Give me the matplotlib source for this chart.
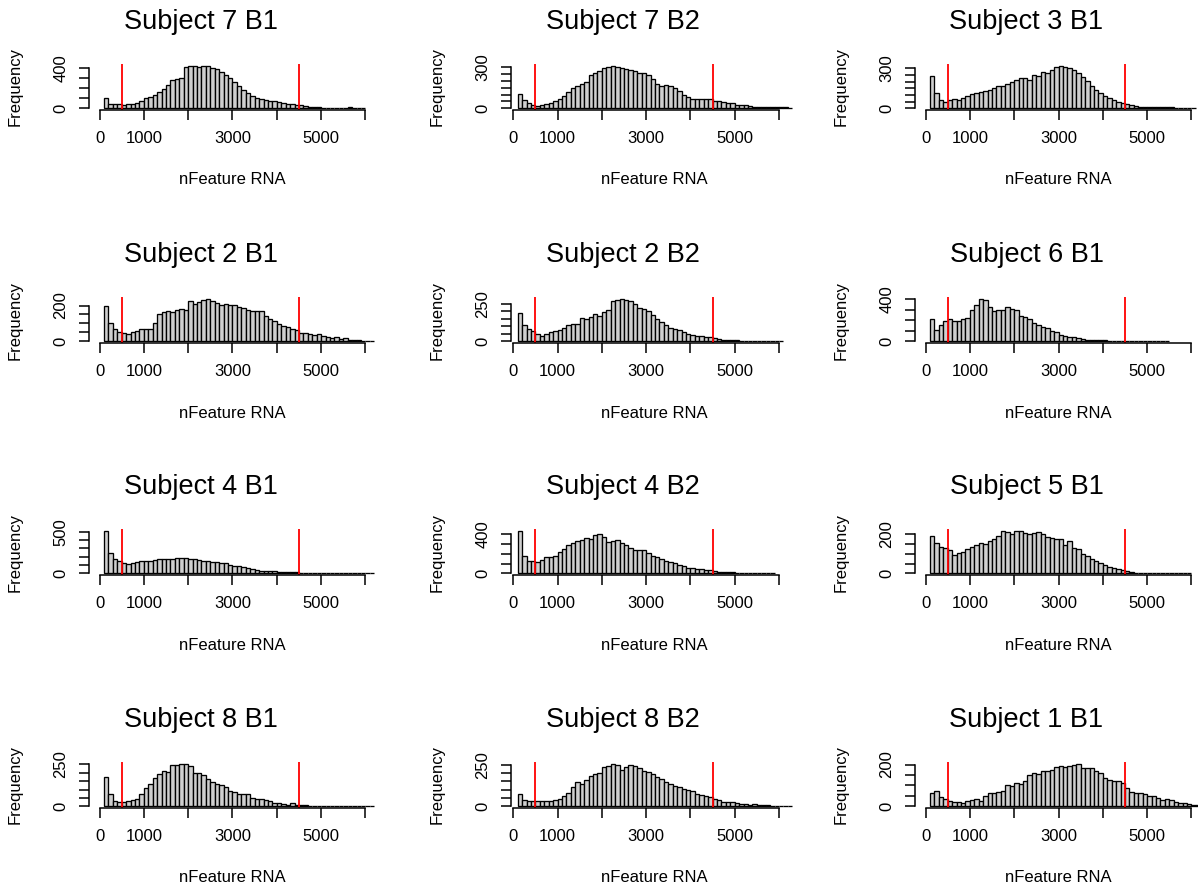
import numpy as np
import matplotlib
matplotlib.use("Agg")
import matplotlib.pyplot as plt

plt.rcParams['font.family'] = ['Liberation Sans', 'DejaVu Sans']

# ---------------- data ----------------
titles = ["Subject 7 B1", "Subject 7 B2", "Subject 3 B1",
          "Subject 2 B1", "Subject 2 B2", "Subject 6 B1",
          "Subject 4 B1", "Subject 4 B2", "Subject 5 B1",
          "Subject 8 B1", "Subject 8 B2", "Subject 1 B1"]

bin_start = 100
bin_width = 100

s7_b1 = [100, 45, 40, 40, 35, 40, 45, 55, 70,
         100, 115, 130, 160, 195, 230, 275, 285, 300, 410,
         420, 420, 410, 420, 420, 400, 385, 360, 330, 300,
         260, 215, 180, 150, 120, 100, 90, 80, 75, 70,
         60, 50, 42, 38, 32, 28, 22, 15, 10, 8,
         6, 5, 5, 4, 4, 3, 8, 3, 5, 2]
s7_b2 = [105, 60, 35, 25, 15, 25, 30, 37, 50,
         65, 90, 120, 150, 160, 175, 195, 240, 260, 275,
         290, 300, 310, 300, 295, 285, 280, 270, 260, 255,
         245, 215, 175, 160, 170, 165, 145, 125, 100, 80,
         66, 66, 66, 66, 66, 50, 50, 45, 35, 35,
         25, 25, 25, 20, 12, 10, 10, 10, 8, 8,
         8, 6, 4]
s3_b1 = [240, 115, 60, 45, 62, 70, 65, 80, 95,
         105, 115, 120, 130, 140, 155, 165, 170, 180, 195,
         215, 225, 225, 215, 250, 240, 270, 265, 285, 310,
         320, 310, 300, 290, 265, 235, 205, 170, 140, 115,
         90, 75, 62, 50, 40, 32, 25, 18, 12, 10,
         8, 8, 7, 7, 6, 6, 5, 5, 4, 4,
         3]
s2_b1 = [200, 105, 67, 52, 48, 38, 52, 58, 67,
         67, 67, 105, 150, 163, 169, 163, 173, 182, 177,
         225, 211, 220, 228, 238, 225, 215, 202, 211, 205,
         202, 192, 186, 173, 169, 167, 170, 144, 125, 115,
         96, 86, 81, 67, 61, 48, 48, 38, 35, 42,
         29, 23, 19, 25, 15, 19, 10, 10, 6, 4,
         3, 2]
s2_b2 = [192, 108, 85, 66, 50, 38, 50, 61, 66,
         78, 89, 108, 119, 119, 154, 149, 164, 180, 171,
         194, 210, 272, 278, 285, 278, 267, 249, 222, 215,
         204, 176, 149, 131, 108, 89, 80, 73, 61, 50,
         43, 38, 35, 32, 28, 23, 16, 12, 12, 12,
         10, 3, 2, 2, 2, 1, 1, 1, 1, 1,
         1]
s6_b1 = [208, 112, 160, 192, 208, 192, 192, 208, 224,
         300, 350, 406, 390, 330, 290, 295, 300, 326, 310,
         300, 240, 230, 208, 176, 160, 134, 122, 96, 86,
         58, 48, 42, 38, 32, 26, 16, 16, 10, 8,
         8, 6, 6, 3, 3, 3, 3, 3, 3, 3,
         3, 2, 2, 2, 2]
s4_b1 = [513, 250, 167, 146, 125, 117, 125, 138, 146,
         146, 154, 158, 167, 167, 167, 175, 188, 188, 179,
         175, 167, 158, 146, 146, 138, 133, 125, 125, 104,
         83, 83, 71, 63, 50, 42, 33, 33, 29, 29,
         21, 21, 21, 21, 21, 8, 4, 2, 2, 2,
         1, 1, 1, 1, 1, 1, 1, 1, 1, 1,
         1, 1]
s4_b2 = [435, 181, 129, 122, 118, 136, 164, 171, 181,
         216, 250, 285, 310, 330, 345, 365, 355, 390, 397,
         372, 320, 327, 338, 310, 285, 261, 233, 233, 240,
         205, 181, 164, 146, 129, 111, 101, 87, 77, 59,
         52, 42, 42, 35, 31, 24, 17, 17, 10, 17,
         5, 5, 4, 4, 4, 3, 3, 3, 2]
s5_b1 = [191, 155, 133, 127, 118, 96, 104, 109, 122,
         136, 146, 155, 151, 164, 173, 191, 218, 213, 200,
         218, 215, 206, 200, 204, 209, 200, 187, 182, 173,
         176, 146, 164, 127, 122, 100, 91, 73, 64, 55,
         42, 31, 27, 22, 15, 13, 9, 4, 4, 4,
         4, 3, 3, 1, 1, 1, 1, 1, 1, 1]
s8_b1 = [177, 73, 31, 27, 25, 31, 35, 42, 73,
         108, 135, 166, 191, 208, 204, 245, 245, 254, 250,
         239, 198, 198, 187, 162, 146, 135, 125, 114, 94,
         83, 73, 73, 73, 52, 42, 42, 37, 31, 21,
         17, 15, 10, 17, 10, 10, 8, 4, 2, 2,
         1, 1, 1, 1, 1, 1, 1, 1, 1, 1,
         1, 1]
s8_b2 = [72, 35, 31, 31, 31, 31, 33, 33, 37,
         45, 62, 82, 113, 144, 133, 158, 185, 195, 199,
         236, 240, 256, 246, 219, 236, 246, 242, 232, 215,
         209, 195, 174, 164, 144, 137, 123, 113, 103, 98,
         92, 76, 68, 62, 55, 41, 37, 27, 25, 27,
         20, 16, 14, 10, 14, 10, 6, 10, 4, 2,
         1, 1, 1]
s1_b1 = [65, 73, 46, 33, 26, 21, 21, 18, 24,
         29, 34, 24, 51, 62, 62, 70, 73, 103, 95,
         111, 106, 119, 152, 160, 155, 168, 171, 176, 187,
         192, 189, 192, 200, 204, 184, 184, 184, 171, 160,
         135, 127, 122, 122, 111, 90, 70, 65, 62, 57,
         51, 51, 41, 29, 33, 29, 21, 16, 16, 13,
         8, 5, 3]

series = [s7_b1, s7_b2, s3_b1, s2_b1, s2_b2, s6_b1,
          s4_b1, s4_b2, s5_b1, s8_b1, s8_b2, s1_b1]

cutoffs = [500, 4500]
x_ticks = [0, 1000, 2000, 3000, 4000, 5000, 6000]
x_tick_labels = ["0", "1000", "", "3000", "", "5000", ""]
x_label = "nFeature RNA"
y_label = "Frequency"


def r_pretty_ticks(lo, hi, n=5):
    """Approximation of R's pretty()/axTicks within [lo, hi]."""
    cell = (hi - lo) / n
    U = 10 ** np.floor(np.log10(cell))
    h, h5 = 1.5, 0.5 + 1.5 * 1.5
    unit = U
    if 2 * U - cell < h * (cell - unit):
        unit = 2 * U
        if 5 * U - cell < h5 * (cell - unit):
            unit = 5 * U
            if 10 * U - cell < h * (cell - unit):
                unit = 10 * U
    start = np.ceil(lo / unit) * unit
    return np.arange(start, hi + 1e-9, unit)


# ---------------- layout (pixels) ----------------
W, H = 1198, 890
fig = plt.figure(figsize=(W / 100, H / 100), dpi=100)
fig.patch.set_facecolor("white")

col_left = [89, 511, 915]
row_top = [64, 297, 529, 762]
ax_w, ax_h = 287, 46
col_xlim = [(-240, 6240), (-50, 6430), (-240, 6240)]

for i, (title, counts) in enumerate(zip(titles, series)):
    r, c = divmod(i, 3)
    left = col_left[c] / W
    bottom = 1 - (row_top[r] + ax_h) / H
    ax = fig.add_axes([left, bottom, ax_w / W, ax_h / H])

    counts = np.asarray(counts, dtype=float)
    edges = bin_start + bin_width * np.arange(len(counts))
    ax.bar(edges, counts, width=bin_width, align="edge",
           facecolor="#cfcfcf", edgecolor="black", linewidth=0.95)

    m = counts.max()
    ylo, yhi = -0.04 * m, 1.04 * m
    ax.set_ylim(ylo, yhi)
    ax.set_xlim(*col_xlim[c])

    for v in cutoffs:
        ax.axvline(v, color="red", linewidth=1.3)

    yt = r_pretty_ticks(ylo, yhi)
    yt = yt[yt >= 0]
    ax.set_yticks(yt)
    ylabs = [""] * len(yt)
    ylabs[0] = "%d" % yt[0]
    ylabs[-1] = "%d" % yt[-1]
    ax.set_yticklabels(ylabs, rotation=90, va="center")

    ax.set_xticks(x_ticks)
    ax.set_xticklabels(x_tick_labels)

    for s in ("top", "right"):
        ax.spines[s].set_visible(False)
    ax.spines["left"].set_bounds(yt[0], yt[-1])
    ax.spines["bottom"].set_bounds(x_ticks[0], x_ticks[-1])
    for s in ("left", "bottom"):
        ax.spines[s].set_linewidth(1.1)

    ax.tick_params(axis="both", direction="out", length=7, width=1.1,
                   labelsize=12, colors="black")
    ax.tick_params(axis="x", pad=8)
    ax.tick_params(axis="y", pad=8)

    ax.text(0.5 - 32 / ax_w, 1 + 42 / ax_h, title, transform=ax.transAxes,
            ha="center", va="center", fontsize=19.5)
    ax.text(0.5, -70 / ax_h, x_label, transform=ax.transAxes,
            ha="center", va="center", fontsize=12)
    ax.text(-74 / ax_w, 0.5, y_label, transform=ax.transAxes,
            ha="center", va="center", rotation=90, fontsize=12)

fig.savefig("out.png", dpi=100, facecolor="white")
